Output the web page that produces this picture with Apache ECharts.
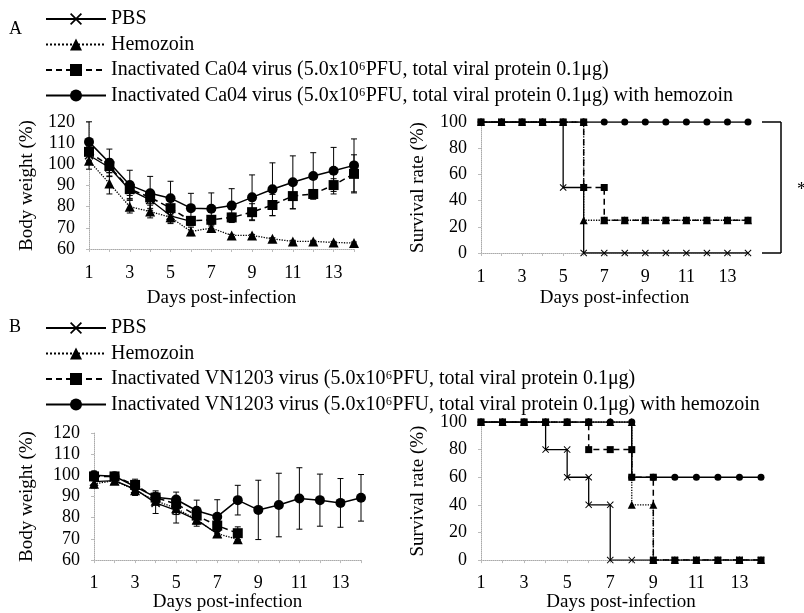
<!DOCTYPE html>
<html>
<head>
<meta charset="utf-8">
<script src="https://cdn.jsdelivr.net/npm/echarts@6/dist/echarts.min.js"></script>
<style>
html, body { margin: 0; padding: 0; background: #fff; }
#main { width: 804px; height: 613px; }
</style>
</head>
<body>
<div id="main"></div>
<script>
var chart = echarts.init(document.getElementById('main'));
var FONT = '"Liberation Serif", "Times New Roman", serif';

// days post-infection
var days = [1, 2, 3, 4, 5, 6, 7, 8, 9, 10, 11, 12, 13, 14];

// A: body weight (%), Ca04 challenge
var bwA_PBS = [104.3, 98.5, 87.9, 83.2, 75.7, 73.0];
var bwA_PBS_err = [4, 4, 4, 4, 3, 2];
var bwA_Hz = [101.7, 91.0, 80.0, 77.7, 75.0, 68.3, 69.9, 66.4, 66.4, 64.8, 63.6, 63.6, 63.1, 62.8];
var bwA_Hz_err = [4, 5, 3, 3, 3, 2, 1, 0.5, 0.5, 0.5, 0.5, 0.5, 0.5, 0.5];
var bwA_Vir = [105.9, 99.2, 88.3, 84.4, 79.3, 73.3, 73.8, 74.9, 77.4, 80.8, 85.0, 86.0, 90.2, 95.5];
var bwA_Vir_err = [4, 3, 3, 3, 4, 2, 2, 2, 4, 5, 6, 2, 3, 9];
var bwA_VirHz = [110.6, 100.7, 90.2, 86.3, 84.0, 79.3, 79.0, 80.5, 84.4, 88.2, 91.5, 94.5, 97.0, 99.5];
var bwA_VirHz_err = [9.5, 6.5, 7, 8, 8, 7, 7.5, 8, 10.6, 12.5, 12.5, 11, 11, 12.5];

// A: survival rate (%)
var svA_PBS = [[1,100],[2,100],[3,100],[4,100],[5,100],[5,50],[6,50],[6,0],[7,0],[8,0],[9,0],[10,0],[11,0],[12,0],[13,0],[14,0]];
var svA_Hz = [[1,100],[2,100],[3,100],[4,100],[5,100],[6,100],[6,25],[7,25],[8,25],[9,25],[10,25],[11,25],[12,25],[13,25],[14,25]];
var svA_Vir = [[1,100],[2,100],[3,100],[4,100],[5,100],[6,100],[6,50],[7,50],[7,25],[8,25],[9,25],[10,25],[11,25],[12,25],[13,25],[14,25]];
var svA_VirHz = [[1,100],[2,100],[3,100],[4,100],[5,100],[6,100],[7,100],[8,100],[9,100],[10,100],[11,100],[12,100],[13,100],[14,100]];

// B: body weight (%), VN1203 challenge
var bwB_PBS = [97.0, 97.5, 93.5, 87.0, 83.5, 79.0, 72.4];
var bwB_PBS_err = [2, 1.5, 3, 5, 6, 3, 1.5];
var bwB_Hz = [96.0, 97.5, 93.0, 88.0, 84.5, 79.0, 72.5, 69.8];
var bwB_Hz_err = [2, 1, 2, 2, 3, 2, 1, 1];
var bwB_Vir = [99.5, 99.5, 95.5, 89.5, 86.5, 81.0, 76.3, 72.7];
var bwB_Vir_err = [2, 1, 2, 2, 3, 3, 2, 3];
var bwB_VirHz = [100.0, 99.6, 94.7, 89.7, 88.6, 83.3, 80.5, 88.3, 83.7, 86.0, 89.1, 88.3, 87.0, 89.4];
var bwB_VirHz_err = [2, 1.5, 3.5, 3, 3.5, 5, 8, 7, 14, 15, 14.5, 12.3, 11.5, 11];

// B: survival rate (%)
var svB_PBS = [[1,100],[2,100],[3,100],[4,100],[4,80],[5,80],[5,60],[6,60],[6,40],[7,40],[7,0],[8,0],[9,0],[10,0],[11,0],[12,0],[13,0],[14,0]];
var svB_Hz = [[1,100],[2,100],[3,100],[4,100],[5,100],[6,100],[7,100],[8,100],[8,40],[9,40],[9,0],[10,0],[11,0],[12,0],[13,0],[14,0]];
var svB_Vir = [[1,100],[2,100],[3,100],[4,100],[5,100],[6,100],[6,80],[7,80],[8,80],[8,60],[9,60],[9,0],[10,0],[11,0],[12,0],[13,0],[14,0]];
var svB_VirHz = [[1,100],[2,100],[3,100],[4,100],[5,100],[6,100],[7,100],[8,100],[8,60],[9,60],[10,60],[11,60],[12,60],[13,60],[14,60]];

var legendText = {
  PBS: 'PBS',
  Hemozoin: 'Hemozoin',
  Ca04: 'Inactivated Ca04 virus (5.0x10\u2076PFU, total viral protein 0.1\u03bcg)',
  Ca04Hz: 'Inactivated Ca04 virus (5.0x10\u2076PFU, total viral protein 0.1\u03bcg) with hemozoin',
  VN: 'Inactivated VN1203 virus (5.0x10\u2076PFU, total viral protein 0.1\u03bcg)',
  VNHz: 'Inactivated VN1203 virus (5.0x10\u2076PFU, total viral protein 0.1\u03bcg) with hemozoin'
};

var X_PATH = 'path://M0,1L1,0L5,4L9,0L10,1L6,5L10,9L9,10L5,6L1,10L0,9L4,5Z';
var kinds = {
  pbs: { symbol: X_PATH, type: 'solid', width: 1.3 },
  hz: { symbol: 'triangle', type: 'dotted', width: 1.3 },
  vir: { symbol: 'rect', type: [6, 4], width: 1.5 },
  virhz: { symbol: 'circle', type: 'solid', width: 1.5 }
};

function pts(vals) {
  return vals.map(function (v, i) { return [days[i], v]; });
}
function bars(vals, errs) {
  return vals.map(function (v, i) { return [days[i], v - errs[i], v + errs[i]]; });
}

function lineSeries(name, kind, idx, data, size, z) {
  var k = kinds[kind];
  return {
    name: name, type: 'line', xAxisIndex: idx, yAxisIndex: idx, data: data,
    symbol: k.symbol, symbolSize: size, showSymbol: true, z: z,
    itemStyle: { color: '#000' },
    lineStyle: { color: '#000', width: k.width, type: k.type },
    emphasis: { disabled: true }
  };
}

function errSeries(idx, data) {
  return {
    name: 'err', type: 'custom', xAxisIndex: idx, yAxisIndex: idx, data: data,
    encode: { x: 0, y: [1, 2] }, silent: true, z: 1,
    renderItem: function (params, api) {
      var lo = api.coord([api.value(0), api.value(1)]);
      var hi = api.coord([api.value(0), api.value(2)]);
      var w = 3;
      var st = { stroke: '#000', lineWidth: 1 };
      return {
        type: 'group', children: [
          { type: 'line', shape: { x1: lo[0], y1: lo[1], x2: hi[0], y2: hi[1] }, style: st },
          { type: 'line', shape: { x1: lo[0] - w, y1: lo[1], x2: lo[0] + w, y2: lo[1] }, style: st },
          { type: 'line', shape: { x1: hi[0] - w, y1: hi[1], x2: hi[0] + w, y2: hi[1] }, style: st }
        ]
      };
    }
  };
}

var axisLineStyle = { lineStyle: { color: '#aaa', type: 'dotted', width: 1 } };

function xAx(idx, gap, margin) {
  return {
    type: 'value', gridIndex: idx, min: 1, max: 14, interval: 1,
    name: 'Days post-infection', nameLocation: 'middle', nameGap: gap,
    nameTextStyle: { fontFamily: FONT, fontSize: 19, color: '#000' },
    axisLine: axisLineStyle,
    axisTick: { show: true, length: 3, lineStyle: { color: '#bbb' } },
    splitLine: { show: false },
    axisLabel: {
      fontFamily: FONT, fontSize: 18, color: '#000', margin: margin,
      formatter: function (v) { return v % 2 === 1 ? String(v) : ''; }
    }
  };
}

function yAx(idx, name, min, max, interval, gap) {
  return {
    type: 'value', gridIndex: idx, min: min, max: max, interval: interval,
    name: name, nameLocation: 'middle', nameGap: gap,
    nameTextStyle: { fontFamily: FONT, fontSize: 19, color: '#000' },
    axisLine: { show: true, lineStyle: { color: '#aaa', type: 'dotted', width: 1 } },
    axisTick: { show: true, length: 3, lineStyle: { color: '#bbb' } },
    splitLine: { show: false },
    axisLabel: { fontFamily: FONT, fontSize: 18, color: '#000', margin: 14 }
  };
}

var legendBase = {
  orient: 'vertical', left: 40, itemWidth: 60, itemHeight: 15, itemGap: 5.5,
  selectedMode: false,
  textStyle: { fontFamily: FONT, fontSize: 20, color: '#000' },
  formatter: function (n) { return legendText[n]; }
};

var option = {
  backgroundColor: '#fff',
  animation: false,
  legend: [
    Object.assign({}, legendBase, { top: 4, data: ['PBS', 'Hemozoin', 'Ca04', 'Ca04Hz'] }),
    Object.assign({}, legendBase, { top: 313, data: ['PBS', 'Hemozoin', 'VN', 'VNHz'] })
  ],
  grid: [
    { left: 89, top: 122, width: 265, height: 127 },
    { left: 481, top: 122, width: 267, height: 131 },
    { left: 94, top: 433, width: 267, height: 131 },
    { left: 481, top: 422, width: 280, height: 143 }
  ],
  xAxis: [xAx(0, 40, 15), xAx(1, 36, 15), xAx(2, 27, 14), xAx(3, 27, 14)],
  yAxis: [
    yAx(0, 'Body weight (%)', 60, 120, 10, 52),
    yAx(1, 'Survival rate (%)', 0, 100, 20, 53),
    yAx(2, 'Body weight (%)', 60, 120, 10, 57),
    yAx(3, 'Survival rate (%)', 0, 100, 20, 53)
  ],
  series: [
    // A body weight
    errSeries(0, bars(bwA_PBS, bwA_PBS_err)),
    errSeries(0, bars(bwA_Hz, bwA_Hz_err)),
    errSeries(0, bars(bwA_Vir, bwA_Vir_err)),
    errSeries(0, bars(bwA_VirHz, bwA_VirHz_err)),
    lineSeries('PBS', 'pbs', 0, pts(bwA_PBS), 9, 3),
    lineSeries('Hemozoin', 'hz', 0, pts(bwA_Hz), 10, 3),
    lineSeries('Ca04', 'vir', 0, pts(bwA_Vir), 10, 3),
    lineSeries('Ca04Hz', 'virhz', 0, pts(bwA_VirHz), 10, 3),
    // A survival
    lineSeries('Ca04Hz', 'virhz', 1, svA_VirHz, 7, 3),
    lineSeries('PBS', 'pbs', 1, svA_PBS, 7, 4),
    lineSeries('Ca04', 'vir', 1, svA_Vir, 7, 5),
    lineSeries('Hemozoin', 'hz', 1, svA_Hz, 8, 6),
    // B body weight
    errSeries(2, bars(bwB_PBS, bwB_PBS_err)),
    errSeries(2, bars(bwB_Hz, bwB_Hz_err)),
    errSeries(2, bars(bwB_Vir, bwB_Vir_err)),
    errSeries(2, bars(bwB_VirHz, bwB_VirHz_err)),
    lineSeries('PBS', 'pbs', 2, pts(bwB_PBS), 9, 3),
    lineSeries('Hemozoin', 'hz', 2, pts(bwB_Hz), 10, 3),
    lineSeries('VN', 'vir', 2, pts(bwB_Vir), 10, 3),
    lineSeries('VNHz', 'virhz', 2, pts(bwB_VirHz), 10, 3),
    // B survival
    lineSeries('Hemozoin', 'hz', 3, svB_Hz, 8, 3),
    lineSeries('VNHz', 'virhz', 3, svB_VirHz, 7, 4),
    lineSeries('PBS', 'pbs', 3, svB_PBS, 7, 5),
    lineSeries('VN', 'vir', 3, svB_Vir, 7, 6)
  ]
};
chart.setOption(option);

// panel letters, significance bracket beside survival A
var top100 = chart.convertToPixel({ gridIndex: 1 }, [14, 100]);
var bot0 = chart.convertToPixel({ gridIndex: 1 }, [14, 0]);
var bx = top100[0] + 33;
var bst = { stroke: '#000', lineWidth: 1.5 };
chart.setOption({
  graphic: [
    { type: 'text', left: 9, top: 20, style: { text: 'A', font: '18px ' + FONT, fill: '#000' } },
    { type: 'text', left: 9, top: 318, style: { text: 'B', font: '18px ' + FONT, fill: '#000' } },
    { type: 'line', shape: { x1: bx - 19, y1: top100[1], x2: bx, y2: top100[1] }, style: bst },
    { type: 'line', shape: { x1: bx, y1: top100[1], x2: bx, y2: bot0[1] }, style: bst },
    { type: 'line', shape: { x1: bx - 19, y1: bot0[1], x2: bx, y2: bot0[1] }, style: bst },
    { type: 'text', x: bx + 16, y: (top100[1] + bot0[1]) / 2 - 6, style: { text: '*', font: '18px ' + FONT, fill: '#000' } }
  ]
});
</script>
</body>
</html>
